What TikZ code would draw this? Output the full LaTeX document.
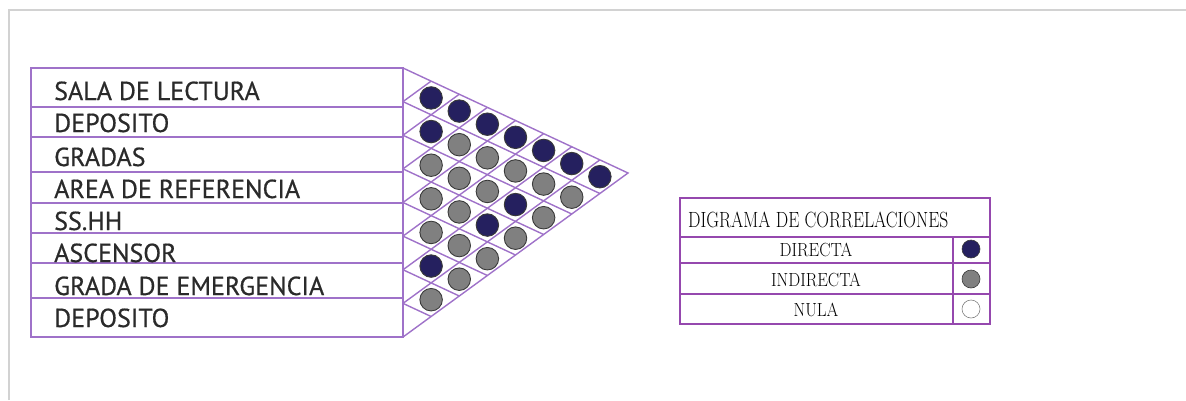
\documentclass[tikz,border=0pt]{standalone}
\usepackage{fontspec}
\setmainfont{Latin Modern Roman}
\newfontfamily\labelfont[FakeBold=0.6]{PT Sans}
\definecolor{gridpurple}{HTML}{9F72C9}
\definecolor{legpurple}{HTML}{9548AE}
\definecolor{navydot}{HTML}{25205F}
\definecolor{graydot}{HTML}{808080}
\definecolor{dotrim}{HTML}{3A3A3A}
\definecolor{framegray}{HTML}{D2D2D2}
\definecolor{labeltext}{HTML}{2A2A2A}
\begin{document}
\begin{tikzpicture}[x=1pt,y=-1pt,
  gridline/.style={draw=gridpurple,line width=1.4pt},
  legline/.style={draw=legpurple,line width=1.6pt},
  rowlabel/.style={anchor=base west,inner sep=0pt,font=\labelfont\fontsize{26}{26}\selectfont,text=labeltext},
  legtext/.style={inner sep=0pt,font=\fontsize{19}{19}\selectfont,text=black},
  dotnavy/.style={circle,fill=navydot,draw=dotrim,line width=0.9pt,minimum size=22.5pt,inner sep=0pt},
  dotgray/.style={circle,fill=graydot,draw=dotrim,line width=0.9pt,minimum size=22.5pt,inner sep=0pt},
  legdot/.style={circle,minimum size=18pt,inner sep=0pt,line width=0.6pt}]
\useasboundingbox (0,0) rectangle (1186,400);
% page frame
\draw[framegray,line width=1.6pt] (9,400) -- (9,10) -- (1186,10);
% label table
\draw[gridline] (31,68) rectangle (403,337);
\foreach \yy in {107,137,172,203,233,263,298}
  \draw[gridline] (31,\yy) -- (403,\yy);
% triangle outline
\coordinate (apex) at (628,173);
\draw[gridline] (403,68) -- (apex) -- (403,337);
% grid lines
\foreach \k in {1,...,7}{
  \draw[gridline] (403,68+\k*33.625) -- ({403+(8-\k)*28.125},{68+\k*33.625+(8-\k)*13.125});
  \draw[gridline] (403,68+\k*33.625) -- ({403+\k*28.125},{68+\k*13.125});
}
% labels
\node[rowlabel] (l1) at (54,100) {SALA DE LECTURA};
\node[rowlabel] (l2) at (54,132) {DEPOSITO};
\node[rowlabel] (l3) at (54,166) {GRADAS};
\node[rowlabel] (l4) at (54,198) {AREA DE REFERENCIA};
\node[rowlabel] (l5) at (54,230) {SS.HH};
\node[rowlabel] (l6) at (54,262) {ASCENSOR};
\node[rowlabel] (l7) at (54,295) {GRADA DE EMERGENCIA};
\node[rowlabel] (l8) at (54,327) {DEPOSITO};
% dots: navy
\foreach \i/\j in {1/2,1/3,1/4,1/5,1/6,1/7,1/8,2/3,3/7,4/7,6/7}
  \node[dotnavy] (d\i\j) at ({403+(\j-\i)*28.125},{68+(\i-0.5)*33.625+(\j-\i)*13.125}) {};
% dots: gray
\foreach \i/\j in {2/4,2/5,2/6,2/7,2/8,3/4,3/5,3/6,3/8,4/5,4/6,4/8,5/6,5/7,5/8,6/8,7/8}
  \node[dotgray] (d\i\j) at ({403+(\j-\i)*28.125},{68+(\i-0.5)*33.625+(\j-\i)*13.125}) {};
% legend
\draw[legline] (680,198) rectangle (990,324);
\draw[legline] (680,237) -- (990,237);
\draw[legline] (680,263) -- (990,263);
\draw[legline] (680,294) -- (990,294);
\draw[legline] (953,237) -- (953,324);
\node[legtext,anchor=base west] (title) at (688,227) {\scalebox{0.8}[1]{\fontsize{22}{22}\selectfont DIGRAMA DE CORRELACIONES}};
\node[legtext,anchor=base] (t1) at (816,256) {\scalebox{0.89}[1]{DIRECTA}};
\node[legtext,anchor=base] (t2) at (816,286) {\scalebox{0.89}[1]{INDIRECTA}};
\node[legtext,anchor=base] (t3) at (816,316) {\scalebox{0.89}[1]{NULA}};
\node[legdot,fill=navydot,draw=dotrim] (c1) at (971,249) {};
\node[legdot,fill=graydot,draw=dotrim] (c2) at (971,279) {};
\node[legdot,fill=white,draw=graydot] (c3) at (971,309) {};
\end{tikzpicture}
\end{document}
